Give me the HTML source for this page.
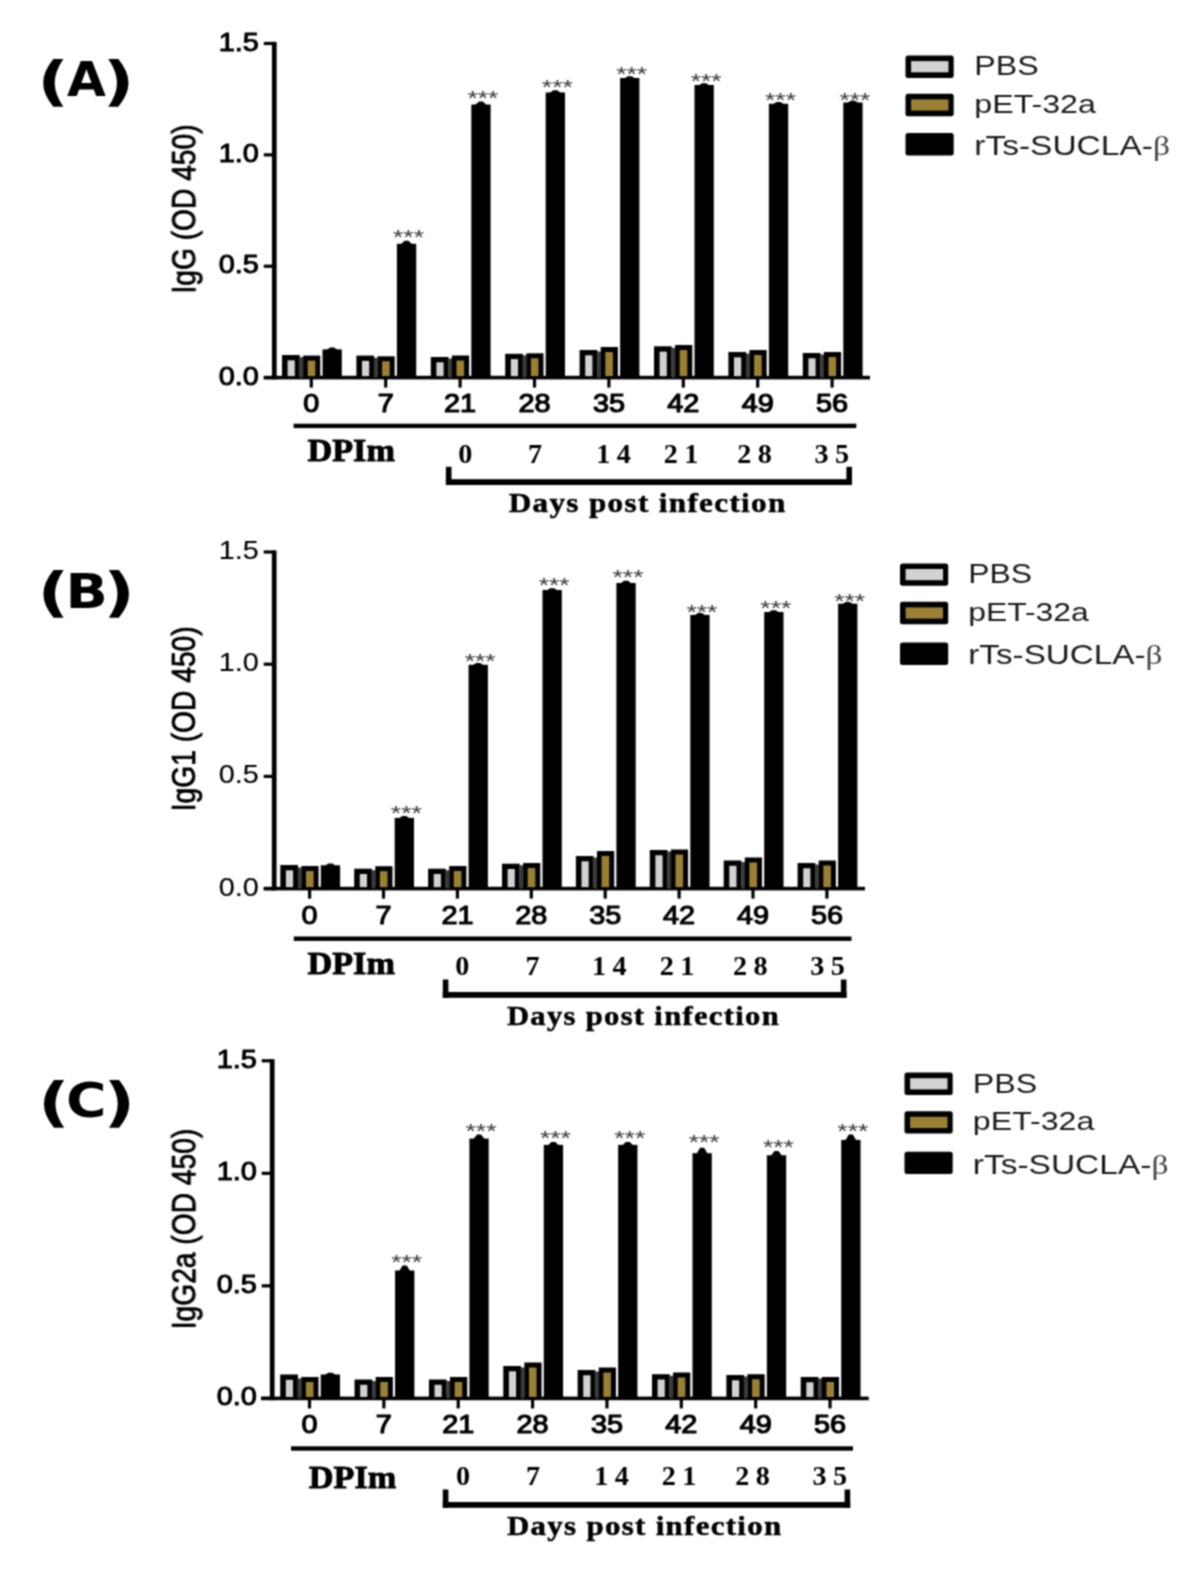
<!DOCTYPE html>
<html lang="en">
<head>
<meta charset="utf-8">
<title>Antibody responses: IgG, IgG1 and IgG2a</title>
<style>
html,body{margin:0;padding:0;background:#fff;}
body{width:1202px;height:1577px;overflow:hidden;}
svg{display:block;}
text{white-space:pre;}
</style>
</head>
<body>
<svg width="1202" height="1577" viewBox="0 0 1202 1577">
<defs><filter id="soft" x="0" y="0" width="1202" height="1577" filterUnits="userSpaceOnUse" color-interpolation-filters="sRGB"><feConvolveMatrix order="3" kernelMatrix="1 2 1 2 4 2 1 2 1" divisor="16" edgeMode="duplicate" preserveAlpha="false"/></filter></defs>
<rect x="0" y="0" width="1202" height="1577" fill="#fff"/>
<g filter="url(#soft)">
<g>
<g>
<text transform="translate(37.3 100.3) scale(1.3 1)" font-family='"DejaVu Sans", "Liberation Sans", sans-serif' font-size="53.3" font-weight="bold" text-anchor="start" fill="#000">(</text>
<text transform="translate(67.1 96.3) scale(1.04 1)" font-family='"DejaVu Sans", "Liberation Sans", sans-serif' font-size="48.3" font-weight="bold" text-anchor="start" fill="#000">A</text>
<text transform="translate(134.5 100.3) scale(1.3 1)" font-family='"DejaVu Sans", "Liberation Sans", sans-serif' font-size="53.3" font-weight="bold" text-anchor="end" fill="#000">)</text>
</g>
<text transform="translate(195.3 209) rotate(-90) scale(1 1.18)" font-family='"Liberation Sans", "DejaVu Sans", sans-serif' font-size="28.2" font-weight="normal" text-anchor="middle" fill="#000" stroke="#000" stroke-width="0.7">IgG (OD 450)</text>
<rect x="271.95" y="41.9" width="4.7" height="337.5" fill="#000"/>
<rect x="263.8" y="41.9" width="10.5" height="3.2" fill="#000"/>
<text transform="translate(258.8 50.5) scale(1.1 1)" font-family='"Liberation Sans", "DejaVu Sans", sans-serif' font-size="26.2" font-weight="normal" text-anchor="end" fill="#000" stroke="#000" stroke-width="1">1.5</text>
<rect x="263.8" y="153.27" width="10.5" height="3.2" fill="#000"/>
<text transform="translate(258.8 161.87) scale(1.1 1)" font-family='"Liberation Sans", "DejaVu Sans", sans-serif' font-size="26.2" font-weight="normal" text-anchor="end" fill="#000" stroke="#000" stroke-width="1">1.0</text>
<rect x="263.8" y="264.63" width="10.5" height="3.2" fill="#000"/>
<text transform="translate(258.8 273.23) scale(1.1 1)" font-family='"Liberation Sans", "DejaVu Sans", sans-serif' font-size="26.2" font-weight="normal" text-anchor="end" fill="#000" stroke="#000" stroke-width="1">0.5</text>
<rect x="263.8" y="376" width="10.5" height="3.2" fill="#000"/>
<text transform="translate(258.8 384.6) scale(1.1 1)" font-family='"Liberation Sans", "DejaVu Sans", sans-serif' font-size="26.2" font-weight="normal" text-anchor="end" fill="#000" stroke="#000" stroke-width="1">0.0</text>
<rect x="263.8" y="375.8" width="606.2" height="3.6" fill="#000"/>
<rect x="309.7" y="377.6" width="3.2" height="10" fill="#000"/>
<text transform="translate(311.3 411.6) scale(1.1 1)" font-family='"Liberation Sans", "DejaVu Sans", sans-serif' font-size="26.2" font-weight="normal" text-anchor="middle" fill="#000" stroke="#000" stroke-width="1.2">0</text>
<rect x="282" y="355" width="17.7" height="22.6" fill="#000"/>
<rect x="287.6" y="360.3" width="7.2" height="15.8" fill="#d2d2d2"/>
<rect x="299.5" y="357.1" width="3.8" height="20.5" fill="#3a3a3a"/>
<rect x="303.1" y="355.6" width="17.2" height="22" fill="#000"/>
<rect x="307.7" y="360.6" width="7.6" height="15.5" fill="#9a8032"/>
<rect x="322.5" y="349.4" width="19.3" height="28.2" fill="#000"/>
<path d="M326.6 349.9 L330.1 347.6 L334.1 347.6 L337.6 349.9 Z" fill="#000"/>
<rect x="384.1" y="377.6" width="3.2" height="10" fill="#000"/>
<text transform="translate(385.7 411.6) scale(1.1 1)" font-family='"Liberation Sans", "DejaVu Sans", sans-serif' font-size="26.2" font-weight="normal" text-anchor="middle" fill="#000" stroke="#000" stroke-width="1.2">7</text>
<rect x="356.4" y="355.6" width="17.7" height="22" fill="#000"/>
<rect x="362" y="360.9" width="7.2" height="15.2" fill="#d2d2d2"/>
<rect x="373.9" y="357.8" width="3.8" height="19.8" fill="#3a3a3a"/>
<rect x="377.5" y="356.3" width="17.2" height="21.3" fill="#000"/>
<rect x="382.1" y="361.3" width="7.6" height="14.8" fill="#9a8032"/>
<rect x="396.9" y="243.8" width="19.3" height="133.8" fill="#000"/>
<path d="M401 244.3 L404.5 240.8 L408.5 240.8 L412 244.3 Z" fill="#000"/>
<text transform="translate(408.5 244.1) scale(1.04 0.8)" font-family='"Liberation Sans", "DejaVu Sans", sans-serif' font-size="25.5" font-weight="normal" text-anchor="middle" fill="#333">***</text>
<rect x="458.5" y="377.6" width="3.2" height="10" fill="#000"/>
<text transform="translate(460.1 411.6) scale(1.1 1)" font-family='"Liberation Sans", "DejaVu Sans", sans-serif' font-size="26.2" font-weight="normal" text-anchor="middle" fill="#000" stroke="#000" stroke-width="1.2">21</text>
<rect x="430.8" y="357" width="17.7" height="20.6" fill="#000"/>
<rect x="436.4" y="362.3" width="7.2" height="13.8" fill="#d2d2d2"/>
<rect x="448.3" y="358.5" width="3.8" height="19.1" fill="#3a3a3a"/>
<rect x="451.9" y="355.5" width="17.2" height="22.1" fill="#000"/>
<rect x="456.5" y="360.5" width="7.6" height="15.6" fill="#9a8032"/>
<rect x="471.3" y="104.5" width="19.3" height="273.1" fill="#000"/>
<path d="M475.4 105 L478.9 101.6 L482.9 101.6 L486.4 105 Z" fill="#000"/>
<text transform="translate(482.9 104.9) scale(1.04 0.8)" font-family='"Liberation Sans", "DejaVu Sans", sans-serif' font-size="25.5" font-weight="normal" text-anchor="middle" fill="#333">***</text>
<rect x="532.9" y="377.6" width="3.2" height="10" fill="#000"/>
<text transform="translate(534.5 411.6) scale(1.1 1)" font-family='"Liberation Sans", "DejaVu Sans", sans-serif' font-size="26.2" font-weight="normal" text-anchor="middle" fill="#000" stroke="#000" stroke-width="1.2">28</text>
<rect x="505.2" y="353.8" width="17.7" height="23.8" fill="#000"/>
<rect x="510.8" y="359.1" width="7.2" height="17" fill="#d2d2d2"/>
<rect x="522.7" y="355.3" width="3.8" height="22.3" fill="#3a3a3a"/>
<rect x="526.3" y="353.3" width="17.2" height="24.3" fill="#000"/>
<rect x="530.9" y="358.3" width="7.6" height="17.8" fill="#9a8032"/>
<rect x="545.7" y="92.5" width="19.3" height="285.1" fill="#000"/>
<path d="M549.8 93 L553.3 90.3 L557.3 90.3 L560.8 93 Z" fill="#000"/>
<text transform="translate(557.3 93.6) scale(1.04 0.8)" font-family='"Liberation Sans", "DejaVu Sans", sans-serif' font-size="25.5" font-weight="normal" text-anchor="middle" fill="#333">***</text>
<rect x="607.3" y="377.6" width="3.2" height="10" fill="#000"/>
<text transform="translate(608.9 411.6) scale(1.1 1)" font-family='"Liberation Sans", "DejaVu Sans", sans-serif' font-size="26.2" font-weight="normal" text-anchor="middle" fill="#000" stroke="#000" stroke-width="1.2">35</text>
<rect x="579.6" y="350" width="17.7" height="27.6" fill="#000"/>
<rect x="585.2" y="355.3" width="7.2" height="20.8" fill="#d2d2d2"/>
<rect x="597.1" y="351.5" width="3.8" height="26.1" fill="#3a3a3a"/>
<rect x="600.7" y="347" width="17.2" height="30.6" fill="#000"/>
<rect x="605.3" y="352" width="7.6" height="24.1" fill="#9a8032"/>
<rect x="620.1" y="78" width="19.3" height="299.6" fill="#000"/>
<path d="M624.2 78.5 L627.7 76.2 L631.7 76.2 L635.2 78.5 Z" fill="#000"/>
<text transform="translate(631.7 80.6) scale(1.04 0.8)" font-family='"Liberation Sans", "DejaVu Sans", sans-serif' font-size="25.5" font-weight="normal" text-anchor="middle" fill="#333">***</text>
<rect x="681.7" y="377.6" width="3.2" height="10" fill="#000"/>
<text transform="translate(683.3 411.6) scale(1.1 1)" font-family='"Liberation Sans", "DejaVu Sans", sans-serif' font-size="26.2" font-weight="normal" text-anchor="middle" fill="#000" stroke="#000" stroke-width="1.2">42</text>
<rect x="654" y="346.3" width="17.7" height="31.3" fill="#000"/>
<rect x="659.6" y="351.6" width="7.2" height="24.5" fill="#d2d2d2"/>
<rect x="671.5" y="347.8" width="3.8" height="29.8" fill="#3a3a3a"/>
<rect x="675.1" y="345" width="17.2" height="32.6" fill="#000"/>
<rect x="679.7" y="350" width="7.6" height="26.1" fill="#9a8032"/>
<rect x="694.5" y="85" width="19.3" height="292.6" fill="#000"/>
<path d="M698.6 85.5 L702.1 83.2 L706.1 83.2 L709.6 85.5 Z" fill="#000"/>
<text transform="translate(706.1 88.1) scale(1.04 0.8)" font-family='"Liberation Sans", "DejaVu Sans", sans-serif' font-size="25.5" font-weight="normal" text-anchor="middle" fill="#333">***</text>
<rect x="756.1" y="377.6" width="3.2" height="10" fill="#000"/>
<text transform="translate(757.7 411.6) scale(1.1 1)" font-family='"Liberation Sans", "DejaVu Sans", sans-serif' font-size="26.2" font-weight="normal" text-anchor="middle" fill="#000" stroke="#000" stroke-width="1.2">49</text>
<rect x="728.4" y="352" width="17.7" height="25.6" fill="#000"/>
<rect x="734" y="357.3" width="7.2" height="18.8" fill="#d2d2d2"/>
<rect x="745.9" y="353.5" width="3.8" height="24.1" fill="#3a3a3a"/>
<rect x="749.5" y="350" width="17.2" height="27.6" fill="#000"/>
<rect x="754.1" y="355" width="7.6" height="21.1" fill="#9a8032"/>
<rect x="768.9" y="103.8" width="19.3" height="273.8" fill="#000"/>
<path d="M773 104.3 L776.5 102 L780.5 102 L784 104.3 Z" fill="#000"/>
<text transform="translate(780.5 106.6) scale(1.04 0.8)" font-family='"Liberation Sans", "DejaVu Sans", sans-serif' font-size="25.5" font-weight="normal" text-anchor="middle" fill="#333">***</text>
<rect x="830.5" y="377.6" width="3.2" height="10" fill="#000"/>
<text transform="translate(832.1 411.6) scale(1.1 1)" font-family='"Liberation Sans", "DejaVu Sans", sans-serif' font-size="26.2" font-weight="normal" text-anchor="middle" fill="#000" stroke="#000" stroke-width="1.2">56</text>
<rect x="802.8" y="353" width="17.7" height="24.6" fill="#000"/>
<rect x="808.4" y="358.3" width="7.2" height="17.8" fill="#d2d2d2"/>
<rect x="820.3" y="354.5" width="3.8" height="23.1" fill="#3a3a3a"/>
<rect x="823.9" y="352" width="17.2" height="25.6" fill="#000"/>
<rect x="828.5" y="357" width="7.6" height="19.1" fill="#9a8032"/>
<rect x="843.3" y="102.5" width="19.3" height="275.1" fill="#000"/>
<path d="M847.4 103 L850.9 100.7 L854.9 100.7 L858.4 103 Z" fill="#000"/>
<text transform="translate(854.9 106.6) scale(1.04 0.8)" font-family='"Liberation Sans", "DejaVu Sans", sans-serif' font-size="25.5" font-weight="normal" text-anchor="middle" fill="#333">***</text>
<rect x="293.6" y="423.7" width="562.7" height="4.4" fill="#000"/>
<text transform="translate(307.5 460.6) scale(1.05 1)" font-family='"Liberation Serif", "DejaVu Serif", serif' font-size="32.6" font-weight="bold" text-anchor="start" fill="#000" stroke="#000" stroke-width="0.9">DPIm</text>
<text transform="translate(465.3 462.9) scale(1.06 1)" font-family='"Liberation Serif", "DejaVu Serif", serif' font-size="26.6" font-weight="bold" text-anchor="middle" fill="#000">0</text>
<text transform="translate(535 462.9) scale(1.06 1)" font-family='"Liberation Serif", "DejaVu Serif", serif' font-size="26.6" font-weight="bold" text-anchor="middle" fill="#000">7</text>
<text transform="translate(616.7 462.9) scale(1.06 1)" font-family='"Liberation Serif", "DejaVu Serif", serif' font-size="26.6" font-weight="bold" text-anchor="middle" fill="#000" letter-spacing="6">14</text>
<text transform="translate(684.2 462.9) scale(1.06 1)" font-family='"Liberation Serif", "DejaVu Serif", serif' font-size="26.6" font-weight="bold" text-anchor="middle" fill="#000" letter-spacing="6">21</text>
<text transform="translate(757.7 462.9) scale(1.06 1)" font-family='"Liberation Serif", "DejaVu Serif", serif' font-size="26.6" font-weight="bold" text-anchor="middle" fill="#000" letter-spacing="6">28</text>
<text transform="translate(834.9 462.9) scale(1.06 1)" font-family='"Liberation Serif", "DejaVu Serif", serif' font-size="26.6" font-weight="bold" text-anchor="middle" fill="#000" letter-spacing="6">35</text>
<rect x="445.9" y="466.8" width="5.6" height="18.2" fill="#000"/>
<rect x="846.4" y="466.8" width="5.6" height="18.2" fill="#000"/>
<rect x="445.9" y="479.2" width="406.1" height="5.8" fill="#000"/>
<text transform="translate(508.7 512.4) scale(1.12 1)" font-family='"Liberation Serif", "DejaVu Serif", serif' font-size="27.8" font-weight="bold" text-anchor="start" fill="#000" letter-spacing="1.2" stroke="#000" stroke-width="0.5">Days post infection</text>
<rect x="905.5" y="55.5" width="48.2" height="22.4" rx="2.5" fill="#000"/>
<rect x="911.1" y="61.1" width="37.4" height="11.2" fill="#d2d2d2"/>
<text transform="translate(974.3 74.9) scale(1.2 1)" font-family='"Liberation Sans", "DejaVu Sans", sans-serif' font-size="26.8" font-weight="normal" text-anchor="start" fill="#1a1a1a">PBS</text>
<rect x="905.5" y="93.75" width="48.2" height="22.4" rx="2.5" fill="#000"/>
<rect x="911.1" y="99.35" width="37.4" height="11.2" fill="#9a8032"/>
<text transform="translate(974.3 112.6) scale(1.2 0.95)" font-family='"Liberation Sans", "DejaVu Sans", sans-serif' font-size="26.8" font-weight="normal" text-anchor="start" fill="#1a1a1a">pET-32a</text>
<rect x="905.5" y="133" width="48.2" height="22.4" rx="2.5" fill="#000"/>
<text transform="translate(974.3 155.2) scale(1.25 1.04)" font-family='"Liberation Sans", "DejaVu Sans", sans-serif' font-size="26.8" font-weight="normal" text-anchor="start" fill="#1a1a1a">rTs-SUCLA-<tspan font-family='"Liberation Serif", "DejaVu Serif", serif' fill="#444">β</tspan></text>
</g>
<g>
<g>
<text transform="translate(37.6 610.5) scale(1.3 1)" font-family='"DejaVu Sans", "Liberation Sans", sans-serif' font-size="53.3" font-weight="bold" text-anchor="start" fill="#000">(</text>
<text transform="translate(65.4 608) scale(1.15 1)" font-family='"DejaVu Sans", "Liberation Sans", sans-serif' font-size="48.3" font-weight="bold" text-anchor="start" fill="#000">B</text>
<text transform="translate(134.8 610.5) scale(1.3 1)" font-family='"DejaVu Sans", "Liberation Sans", sans-serif' font-size="53.3" font-weight="bold" text-anchor="end" fill="#000">)</text>
</g>
<text transform="translate(195.3 718.8) rotate(-90) scale(1 1.18)" font-family='"Liberation Sans", "DejaVu Sans", sans-serif' font-size="28.2" font-weight="normal" text-anchor="middle" fill="#000" stroke="#000" stroke-width="0.7">IgG1 (OD 450)</text>
<rect x="271.85" y="550.4" width="4.7" height="340" fill="#000"/>
<rect x="263.7" y="550.4" width="10.5" height="3.2" fill="#000"/>
<text transform="translate(258.7 559) scale(1.1 1)" font-family='"Liberation Sans", "DejaVu Sans", sans-serif' font-size="26.2" font-weight="normal" text-anchor="end" fill="#000" stroke="#000" stroke-width="0.15">1.5</text>
<rect x="263.7" y="662.6" width="10.5" height="3.2" fill="#000"/>
<text transform="translate(258.7 671.2) scale(1.1 1)" font-family='"Liberation Sans", "DejaVu Sans", sans-serif' font-size="26.2" font-weight="normal" text-anchor="end" fill="#000" stroke="#000" stroke-width="0.15">1.0</text>
<rect x="263.7" y="774.8" width="10.5" height="3.2" fill="#000"/>
<text transform="translate(258.7 783.4) scale(1.1 1)" font-family='"Liberation Sans", "DejaVu Sans", sans-serif' font-size="26.2" font-weight="normal" text-anchor="end" fill="#000" stroke="#000" stroke-width="0.15">0.5</text>
<rect x="263.7" y="887" width="10.5" height="3.2" fill="#000"/>
<text transform="translate(258.7 895.6) scale(1.1 1)" font-family='"Liberation Sans", "DejaVu Sans", sans-serif' font-size="26.2" font-weight="normal" text-anchor="end" fill="#000" stroke="#000" stroke-width="0.15">0.0</text>
<rect x="263.8" y="886.8" width="601.2" height="3.6" fill="#000"/>
<rect x="308" y="888.6" width="3.2" height="10" fill="#000"/>
<text transform="translate(309.6 923.7) scale(1.1 1)" font-family='"Liberation Sans", "DejaVu Sans", sans-serif' font-size="26.2" font-weight="normal" text-anchor="middle" fill="#000" stroke="#000" stroke-width="1.1">0</text>
<rect x="280.3" y="865" width="17.7" height="23.6" fill="#000"/>
<rect x="285.9" y="870.3" width="7.2" height="16.8" fill="#d2d2d2"/>
<rect x="297.8" y="867.5" width="3.8" height="21.1" fill="#3a3a3a"/>
<rect x="301.4" y="866" width="17.2" height="22.6" fill="#000"/>
<rect x="306" y="871" width="7.6" height="16.1" fill="#9a8032"/>
<rect x="320.8" y="865.3" width="19.3" height="23.3" fill="#000"/>
<path d="M324.9 865.8 L328.4 863.5 L332.4 863.5 L335.9 865.8 Z" fill="#000"/>
<rect x="381.9" y="888.6" width="3.2" height="10" fill="#000"/>
<text transform="translate(383.5 923.7) scale(1.1 1)" font-family='"Liberation Sans", "DejaVu Sans", sans-serif' font-size="26.2" font-weight="normal" text-anchor="middle" fill="#000" stroke="#000" stroke-width="1.1">7</text>
<rect x="354.2" y="868.7" width="17.7" height="19.9" fill="#000"/>
<rect x="359.8" y="874" width="7.2" height="13.1" fill="#d2d2d2"/>
<rect x="371.7" y="870.2" width="3.8" height="18.4" fill="#3a3a3a"/>
<rect x="375.3" y="866.2" width="17.2" height="22.4" fill="#000"/>
<rect x="379.9" y="871.2" width="7.6" height="15.9" fill="#9a8032"/>
<rect x="394.7" y="817.9" width="19.3" height="70.7" fill="#000"/>
<path d="M398.8 818.4 L402.3 816.1 L406.3 816.1 L409.8 818.4 Z" fill="#000"/>
<text transform="translate(406.3 819.8) scale(1.04 0.8)" font-family='"Liberation Sans", "DejaVu Sans", sans-serif' font-size="25.5" font-weight="normal" text-anchor="middle" fill="#333">***</text>
<rect x="455.8" y="888.6" width="3.2" height="10" fill="#000"/>
<text transform="translate(457.4 923.7) scale(1.1 1)" font-family='"Liberation Sans", "DejaVu Sans", sans-serif' font-size="26.2" font-weight="normal" text-anchor="middle" fill="#000" stroke="#000" stroke-width="1.1">21</text>
<rect x="428.1" y="868.7" width="17.7" height="19.9" fill="#000"/>
<rect x="433.7" y="874" width="7.2" height="13.1" fill="#d2d2d2"/>
<rect x="445.6" y="870.2" width="3.8" height="18.4" fill="#3a3a3a"/>
<rect x="449.2" y="866" width="17.2" height="22.6" fill="#000"/>
<rect x="453.8" y="871" width="7.6" height="16.1" fill="#9a8032"/>
<rect x="468.6" y="664.8" width="19.3" height="223.8" fill="#000"/>
<path d="M472.7 665.3 L476.2 663 L480.2 663 L483.7 665.3 Z" fill="#000"/>
<text transform="translate(480.2 668.4) scale(1.04 0.8)" font-family='"Liberation Sans", "DejaVu Sans", sans-serif' font-size="25.5" font-weight="normal" text-anchor="middle" fill="#333">***</text>
<rect x="529.7" y="888.6" width="3.2" height="10" fill="#000"/>
<text transform="translate(531.3 923.7) scale(1.1 1)" font-family='"Liberation Sans", "DejaVu Sans", sans-serif' font-size="26.2" font-weight="normal" text-anchor="middle" fill="#000" stroke="#000" stroke-width="1.1">28</text>
<rect x="502" y="863.7" width="17.7" height="24.9" fill="#000"/>
<rect x="507.6" y="869" width="7.2" height="18.1" fill="#d2d2d2"/>
<rect x="519.5" y="865.2" width="3.8" height="23.4" fill="#3a3a3a"/>
<rect x="523.1" y="863" width="17.2" height="25.6" fill="#000"/>
<rect x="527.7" y="868" width="7.6" height="19.1" fill="#9a8032"/>
<rect x="542.5" y="590" width="19.3" height="298.6" fill="#000"/>
<path d="M546.6 590.5 L550.1 588.2 L554.1 588.2 L557.6 590.5 Z" fill="#000"/>
<text transform="translate(554.1 592.3) scale(1.04 0.8)" font-family='"Liberation Sans", "DejaVu Sans", sans-serif' font-size="25.5" font-weight="normal" text-anchor="middle" fill="#333">***</text>
<rect x="603.6" y="888.6" width="3.2" height="10" fill="#000"/>
<text transform="translate(605.2 923.7) scale(1.1 1)" font-family='"Liberation Sans", "DejaVu Sans", sans-serif' font-size="26.2" font-weight="normal" text-anchor="middle" fill="#000" stroke="#000" stroke-width="1.1">35</text>
<rect x="575.9" y="856" width="17.7" height="32.6" fill="#000"/>
<rect x="581.5" y="861.3" width="7.2" height="25.8" fill="#d2d2d2"/>
<rect x="593.4" y="857.5" width="3.8" height="31.1" fill="#3a3a3a"/>
<rect x="597" y="851" width="17.2" height="37.6" fill="#000"/>
<rect x="601.6" y="856" width="7.6" height="31.1" fill="#9a8032"/>
<rect x="616.4" y="583" width="19.3" height="305.6" fill="#000"/>
<path d="M620.5 583.5 L624 580.7 L628 580.7 L631.5 583.5 Z" fill="#000"/>
<text transform="translate(628 584) scale(1.04 0.8)" font-family='"Liberation Sans", "DejaVu Sans", sans-serif' font-size="25.5" font-weight="normal" text-anchor="middle" fill="#333">***</text>
<rect x="677.5" y="888.6" width="3.2" height="10" fill="#000"/>
<text transform="translate(679.1 923.7) scale(1.1 1)" font-family='"Liberation Sans", "DejaVu Sans", sans-serif' font-size="26.2" font-weight="normal" text-anchor="middle" fill="#000" stroke="#000" stroke-width="1.1">42</text>
<rect x="649.8" y="850" width="17.7" height="38.6" fill="#000"/>
<rect x="655.4" y="855.3" width="7.2" height="31.8" fill="#d2d2d2"/>
<rect x="667.3" y="851.5" width="3.8" height="37.1" fill="#3a3a3a"/>
<rect x="670.9" y="849.5" width="17.2" height="39.1" fill="#000"/>
<rect x="675.5" y="854.5" width="7.6" height="32.6" fill="#9a8032"/>
<rect x="690.3" y="614.9" width="19.3" height="273.7" fill="#000"/>
<path d="M694.4 615.4 L697.9 613.1 L701.9 613.1 L705.4 615.4 Z" fill="#000"/>
<text transform="translate(701.9 618.5) scale(1.04 0.8)" font-family='"Liberation Sans", "DejaVu Sans", sans-serif' font-size="25.5" font-weight="normal" text-anchor="middle" fill="#333">***</text>
<rect x="751.4" y="888.6" width="3.2" height="10" fill="#000"/>
<text transform="translate(753 923.7) scale(1.1 1)" font-family='"Liberation Sans", "DejaVu Sans", sans-serif' font-size="26.2" font-weight="normal" text-anchor="middle" fill="#000" stroke="#000" stroke-width="1.1">49</text>
<rect x="723.7" y="860.5" width="17.7" height="28.1" fill="#000"/>
<rect x="729.3" y="865.8" width="7.2" height="21.3" fill="#d2d2d2"/>
<rect x="741.2" y="862" width="3.8" height="26.6" fill="#3a3a3a"/>
<rect x="744.8" y="857.5" width="17.2" height="31.1" fill="#000"/>
<rect x="749.4" y="862.5" width="7.6" height="24.6" fill="#9a8032"/>
<rect x="764.2" y="612" width="19.3" height="276.6" fill="#000"/>
<path d="M768.3 612.5 L771.8 610.2 L775.8 610.2 L779.3 612.5 Z" fill="#000"/>
<text transform="translate(775.8 615.2) scale(1.04 0.8)" font-family='"Liberation Sans", "DejaVu Sans", sans-serif' font-size="25.5" font-weight="normal" text-anchor="middle" fill="#333">***</text>
<rect x="825.3" y="888.6" width="3.2" height="10" fill="#000"/>
<text transform="translate(826.9 923.7) scale(1.1 1)" font-family='"Liberation Sans", "DejaVu Sans", sans-serif' font-size="26.2" font-weight="normal" text-anchor="middle" fill="#000" stroke="#000" stroke-width="1.1">56</text>
<rect x="797.6" y="863" width="17.7" height="25.6" fill="#000"/>
<rect x="803.2" y="868.3" width="7.2" height="18.8" fill="#d2d2d2"/>
<rect x="815.1" y="864.5" width="3.8" height="24.1" fill="#3a3a3a"/>
<rect x="818.7" y="860.5" width="17.2" height="28.1" fill="#000"/>
<rect x="823.3" y="865.5" width="7.6" height="21.6" fill="#9a8032"/>
<rect x="838.1" y="603.7" width="19.3" height="284.9" fill="#000"/>
<path d="M842.2 604.2 L845.7 601.9 L849.7 601.9 L853.2 604.2 Z" fill="#000"/>
<text transform="translate(849.7 607.7) scale(1.04 0.8)" font-family='"Liberation Sans", "DejaVu Sans", sans-serif' font-size="25.5" font-weight="normal" text-anchor="middle" fill="#333">***</text>
<rect x="293.8" y="936.5" width="557.7" height="4.4" fill="#000"/>
<text transform="translate(307.5 973.8) scale(1.05 1)" font-family='"Liberation Serif", "DejaVu Serif", serif' font-size="32.6" font-weight="bold" text-anchor="start" fill="#000" stroke="#000" stroke-width="0.9">DPIm</text>
<text transform="translate(462.2 975) scale(1.06 1)" font-family='"Liberation Serif", "DejaVu Serif", serif' font-size="26.6" font-weight="bold" text-anchor="middle" fill="#000">0</text>
<text transform="translate(532.5 975) scale(1.06 1)" font-family='"Liberation Serif", "DejaVu Serif", serif' font-size="26.6" font-weight="bold" text-anchor="middle" fill="#000">7</text>
<text transform="translate(612.5 975) scale(1.06 1)" font-family='"Liberation Serif", "DejaVu Serif", serif' font-size="26.6" font-weight="bold" text-anchor="middle" fill="#000" letter-spacing="6">14</text>
<text transform="translate(680.2 975) scale(1.06 1)" font-family='"Liberation Serif", "DejaVu Serif", serif' font-size="26.6" font-weight="bold" text-anchor="middle" fill="#000" letter-spacing="6">21</text>
<text transform="translate(753.5 975) scale(1.06 1)" font-family='"Liberation Serif", "DejaVu Serif", serif' font-size="26.6" font-weight="bold" text-anchor="middle" fill="#000" letter-spacing="6">28</text>
<text transform="translate(830.7 975) scale(1.06 1)" font-family='"Liberation Serif", "DejaVu Serif", serif' font-size="26.6" font-weight="bold" text-anchor="middle" fill="#000" letter-spacing="6">35</text>
<rect x="442.8" y="979.5" width="5.6" height="18.3" fill="#000"/>
<rect x="840.9" y="979.5" width="5.6" height="18.3" fill="#000"/>
<rect x="442.8" y="992" width="403.7" height="5.8" fill="#000"/>
<text transform="translate(506.9 1025) scale(1.1 1)" font-family='"Liberation Serif", "DejaVu Serif", serif' font-size="27.8" font-weight="bold" text-anchor="start" fill="#000" letter-spacing="1.2" stroke="#000" stroke-width="0.5">Days post infection</text>
<rect x="900" y="563.4" width="48.2" height="22.4" rx="2.5" fill="#000"/>
<rect x="905.6" y="569" width="37.4" height="11.2" fill="#d2d2d2"/>
<text transform="translate(968.3 582.6) scale(1.19 1)" font-family='"Liberation Sans", "DejaVu Sans", sans-serif' font-size="26.8" font-weight="normal" text-anchor="start" fill="#1a1a1a">PBS</text>
<rect x="900" y="601.8" width="48.2" height="22.4" rx="2.5" fill="#000"/>
<rect x="905.6" y="607.4" width="37.4" height="11.2" fill="#9a8032"/>
<text transform="translate(968.3 621.2) scale(1.19 0.95)" font-family='"Liberation Sans", "DejaVu Sans", sans-serif' font-size="26.8" font-weight="normal" text-anchor="start" fill="#1a1a1a">pET-32a</text>
<rect x="900" y="642.5" width="48.2" height="22.4" rx="2.5" fill="#000"/>
<text transform="translate(968.3 663.8) scale(1.24 1.04)" font-family='"Liberation Sans", "DejaVu Sans", sans-serif' font-size="26.8" font-weight="normal" text-anchor="start" fill="#1a1a1a">rTs-SUCLA-<tspan font-family='"Liberation Serif", "DejaVu Serif", serif' fill="#444">β</tspan></text>
</g>
<g>
<g>
<text transform="translate(37.9 1120.8) scale(1.3 1)" font-family='"DejaVu Sans", "Liberation Sans", sans-serif' font-size="53.3" font-weight="bold" text-anchor="start" fill="#000">(</text>
<text transform="translate(66.1 1116.8) scale(1.14 1)" font-family='"DejaVu Sans", "Liberation Sans", sans-serif' font-size="48.3" font-weight="bold" text-anchor="start" fill="#000">C</text>
<text transform="translate(135.1 1120.8) scale(1.3 1)" font-family='"DejaVu Sans", "Liberation Sans", sans-serif' font-size="53.3" font-weight="bold" text-anchor="end" fill="#000">)</text>
</g>
<text transform="translate(195.3 1229) rotate(-90) scale(1 1.18)" font-family='"Liberation Sans", "DejaVu Sans", sans-serif' font-size="28.2" font-weight="normal" text-anchor="middle" fill="#000" stroke="#000" stroke-width="0.7">IgG2a (OD 450)</text>
<rect x="269.85" y="1059.2" width="4.7" height="341" fill="#000"/>
<rect x="261.7" y="1059.2" width="10.5" height="3.2" fill="#000"/>
<text transform="translate(256.7 1067.8) scale(1.1 1)" font-family='"Liberation Sans", "DejaVu Sans", sans-serif' font-size="26.2" font-weight="normal" text-anchor="end" fill="#000" stroke="#000" stroke-width="1">1.5</text>
<rect x="261.7" y="1171.73" width="10.5" height="3.2" fill="#000"/>
<text transform="translate(256.7 1180.33) scale(1.1 1)" font-family='"Liberation Sans", "DejaVu Sans", sans-serif' font-size="26.2" font-weight="normal" text-anchor="end" fill="#000" stroke="#000" stroke-width="1">1.0</text>
<rect x="261.7" y="1284.27" width="10.5" height="3.2" fill="#000"/>
<text transform="translate(256.7 1292.87) scale(1.1 1)" font-family='"Liberation Sans", "DejaVu Sans", sans-serif' font-size="26.2" font-weight="normal" text-anchor="end" fill="#000" stroke="#000" stroke-width="1">0.5</text>
<rect x="261.7" y="1396.8" width="10.5" height="3.2" fill="#000"/>
<text transform="translate(256.7 1405.4) scale(1.1 1)" font-family='"Liberation Sans", "DejaVu Sans", sans-serif' font-size="26.2" font-weight="normal" text-anchor="end" fill="#000" stroke="#000" stroke-width="1">0.0</text>
<rect x="261" y="1396.6" width="607.7" height="3.6" fill="#000"/>
<rect x="307.9" y="1398.4" width="3.2" height="10" fill="#000"/>
<text transform="translate(309.5 1433.4) scale(1.1 1)" font-family='"Liberation Sans", "DejaVu Sans", sans-serif' font-size="26.2" font-weight="normal" text-anchor="middle" fill="#000" stroke="#000" stroke-width="1.2">0</text>
<rect x="280.2" y="1374.5" width="17.7" height="23.9" fill="#000"/>
<rect x="285.8" y="1379.8" width="7.2" height="17.1" fill="#d2d2d2"/>
<rect x="297.7" y="1378.5" width="3.8" height="19.9" fill="#3a3a3a"/>
<rect x="301.3" y="1377" width="17.2" height="21.4" fill="#000"/>
<rect x="305.9" y="1382" width="7.6" height="14.9" fill="#9a8032"/>
<rect x="320.7" y="1374.5" width="19.3" height="23.9" fill="#000"/>
<path d="M324.8 1375 L328.3 1372.7 L332.3 1372.7 L335.8 1375 Z" fill="#000"/>
<rect x="382.26" y="1398.4" width="3.2" height="10" fill="#000"/>
<text transform="translate(383.86 1433.4) scale(1.1 1)" font-family='"Liberation Sans", "DejaVu Sans", sans-serif' font-size="26.2" font-weight="normal" text-anchor="middle" fill="#000" stroke="#000" stroke-width="1.2">7</text>
<rect x="354.56" y="1379.5" width="17.7" height="18.9" fill="#000"/>
<rect x="360.16" y="1384.8" width="7.2" height="12.1" fill="#d2d2d2"/>
<rect x="372.06" y="1381" width="3.8" height="17.4" fill="#3a3a3a"/>
<rect x="375.66" y="1377" width="17.2" height="21.4" fill="#000"/>
<rect x="380.26" y="1382" width="7.6" height="14.9" fill="#9a8032"/>
<rect x="395.06" y="1270.5" width="19.3" height="127.9" fill="#000"/>
<path d="M399.16 1271 L402.66 1265.4 L406.66 1265.4 L410.16 1271 Z" fill="#000"/>
<text transform="translate(406.66 1268.7) scale(1.04 0.8)" font-family='"Liberation Sans", "DejaVu Sans", sans-serif' font-size="25.5" font-weight="normal" text-anchor="middle" fill="#333">***</text>
<rect x="456.62" y="1398.4" width="3.2" height="10" fill="#000"/>
<text transform="translate(458.22 1433.4) scale(1.1 1)" font-family='"Liberation Sans", "DejaVu Sans", sans-serif' font-size="26.2" font-weight="normal" text-anchor="middle" fill="#000" stroke="#000" stroke-width="1.2">21</text>
<rect x="428.92" y="1379.5" width="17.7" height="18.9" fill="#000"/>
<rect x="434.52" y="1384.8" width="7.2" height="12.1" fill="#d2d2d2"/>
<rect x="446.42" y="1381" width="3.8" height="17.4" fill="#3a3a3a"/>
<rect x="450.02" y="1377" width="17.2" height="21.4" fill="#000"/>
<rect x="454.62" y="1382" width="7.6" height="14.9" fill="#9a8032"/>
<rect x="469.42" y="1138.6" width="19.3" height="259.8" fill="#000"/>
<path d="M473.52 1139.1 L477.02 1134.4 L481.02 1134.4 L484.52 1139.1 Z" fill="#000"/>
<text transform="translate(481.02 1137.7) scale(1.04 0.8)" font-family='"Liberation Sans", "DejaVu Sans", sans-serif' font-size="25.5" font-weight="normal" text-anchor="middle" fill="#333">***</text>
<rect x="530.98" y="1398.4" width="3.2" height="10" fill="#000"/>
<text transform="translate(532.58 1433.4) scale(1.1 1)" font-family='"Liberation Sans", "DejaVu Sans", sans-serif' font-size="26.2" font-weight="normal" text-anchor="middle" fill="#000" stroke="#000" stroke-width="1.2">28</text>
<rect x="503.28" y="1366" width="17.7" height="32.4" fill="#000"/>
<rect x="508.88" y="1371.3" width="7.2" height="25.6" fill="#d2d2d2"/>
<rect x="520.78" y="1367.5" width="3.8" height="30.9" fill="#3a3a3a"/>
<rect x="524.38" y="1362.5" width="17.2" height="35.9" fill="#000"/>
<rect x="528.98" y="1367.5" width="7.6" height="29.4" fill="#9a8032"/>
<rect x="543.78" y="1144.9" width="19.3" height="253.5" fill="#000"/>
<path d="M547.88 1145.4 L551.38 1141.9 L555.38 1141.9 L558.88 1145.4 Z" fill="#000"/>
<text transform="translate(555.38 1145.2) scale(1.04 0.8)" font-family='"Liberation Sans", "DejaVu Sans", sans-serif' font-size="25.5" font-weight="normal" text-anchor="middle" fill="#333">***</text>
<rect x="605.34" y="1398.4" width="3.2" height="10" fill="#000"/>
<text transform="translate(606.94 1433.4) scale(1.1 1)" font-family='"Liberation Sans", "DejaVu Sans", sans-serif' font-size="26.2" font-weight="normal" text-anchor="middle" fill="#000" stroke="#000" stroke-width="1.2">35</text>
<rect x="577.64" y="1370" width="17.7" height="28.4" fill="#000"/>
<rect x="583.24" y="1375.3" width="7.2" height="21.6" fill="#d2d2d2"/>
<rect x="595.14" y="1371.5" width="3.8" height="26.9" fill="#3a3a3a"/>
<rect x="598.74" y="1367.5" width="17.2" height="30.9" fill="#000"/>
<rect x="603.34" y="1372.5" width="7.6" height="24.4" fill="#9a8032"/>
<rect x="618.14" y="1144.9" width="19.3" height="253.5" fill="#000"/>
<path d="M622.24 1145.4 L625.74 1141.9 L629.74 1141.9 L633.24 1145.4 Z" fill="#000"/>
<text transform="translate(629.74 1145.2) scale(1.04 0.8)" font-family='"Liberation Sans", "DejaVu Sans", sans-serif' font-size="25.5" font-weight="normal" text-anchor="middle" fill="#333">***</text>
<rect x="679.7" y="1398.4" width="3.2" height="10" fill="#000"/>
<text transform="translate(681.3 1433.4) scale(1.1 1)" font-family='"Liberation Sans", "DejaVu Sans", sans-serif' font-size="26.2" font-weight="normal" text-anchor="middle" fill="#000" stroke="#000" stroke-width="1.2">42</text>
<rect x="652" y="1374.2" width="17.7" height="24.2" fill="#000"/>
<rect x="657.6" y="1379.5" width="7.2" height="17.4" fill="#d2d2d2"/>
<rect x="669.5" y="1375.7" width="3.8" height="22.7" fill="#3a3a3a"/>
<rect x="673.1" y="1372.5" width="17.2" height="25.9" fill="#000"/>
<rect x="677.7" y="1377.5" width="7.6" height="19.4" fill="#9a8032"/>
<rect x="692.5" y="1153.2" width="19.3" height="245.2" fill="#000"/>
<path d="M696.6 1153.7 L700.1 1147.7 L704.1 1147.7 L707.6 1153.7 Z" fill="#000"/>
<text transform="translate(704.1 1149.3) scale(1.04 0.8)" font-family='"Liberation Sans", "DejaVu Sans", sans-serif' font-size="25.5" font-weight="normal" text-anchor="middle" fill="#333">***</text>
<rect x="754.06" y="1398.4" width="3.2" height="10" fill="#000"/>
<text transform="translate(755.66 1433.4) scale(1.1 1)" font-family='"Liberation Sans", "DejaVu Sans", sans-serif' font-size="26.2" font-weight="normal" text-anchor="middle" fill="#000" stroke="#000" stroke-width="1.2">49</text>
<rect x="726.36" y="1375" width="17.7" height="23.4" fill="#000"/>
<rect x="731.96" y="1380.3" width="7.2" height="16.6" fill="#d2d2d2"/>
<rect x="743.86" y="1376.5" width="3.8" height="21.9" fill="#3a3a3a"/>
<rect x="747.46" y="1374.2" width="17.2" height="24.2" fill="#000"/>
<rect x="752.06" y="1379.2" width="7.6" height="17.7" fill="#9a8032"/>
<rect x="766.86" y="1155.3" width="19.3" height="243.1" fill="#000"/>
<path d="M770.96 1155.8 L774.46 1151 L778.46 1151 L781.96 1155.8 Z" fill="#000"/>
<text transform="translate(778.46 1154.3) scale(1.04 0.8)" font-family='"Liberation Sans", "DejaVu Sans", sans-serif' font-size="25.5" font-weight="normal" text-anchor="middle" fill="#333">***</text>
<rect x="828.42" y="1398.4" width="3.2" height="10" fill="#000"/>
<text transform="translate(830.02 1433.4) scale(1.1 1)" font-family='"Liberation Sans", "DejaVu Sans", sans-serif' font-size="26.2" font-weight="normal" text-anchor="middle" fill="#000" stroke="#000" stroke-width="1.2">56</text>
<rect x="800.72" y="1377" width="17.7" height="21.4" fill="#000"/>
<rect x="806.32" y="1382.3" width="7.2" height="14.6" fill="#d2d2d2"/>
<rect x="818.22" y="1378.5" width="3.8" height="19.9" fill="#3a3a3a"/>
<rect x="821.82" y="1377" width="17.2" height="21.4" fill="#000"/>
<rect x="826.42" y="1382" width="7.6" height="14.9" fill="#9a8032"/>
<rect x="841.22" y="1139.9" width="19.3" height="258.5" fill="#000"/>
<path d="M845.32 1140.4 L848.82 1134.4 L852.82 1134.4 L856.32 1140.4 Z" fill="#000"/>
<text transform="translate(852.82 1137.7) scale(1.04 0.8)" font-family='"Liberation Sans", "DejaVu Sans", sans-serif' font-size="25.5" font-weight="normal" text-anchor="middle" fill="#333">***</text>
<rect x="291" y="1446.3" width="562" height="4.4" fill="#000"/>
<text transform="translate(308.8 1487.5) scale(1.05 1)" font-family='"Liberation Serif", "DejaVu Serif", serif' font-size="32.6" font-weight="bold" text-anchor="start" fill="#000" stroke="#000" stroke-width="0.9">DPIm</text>
<text transform="translate(463 1485.4) scale(1.06 1)" font-family='"Liberation Serif", "DejaVu Serif", serif' font-size="26.6" font-weight="bold" text-anchor="middle" fill="#000">0</text>
<text transform="translate(533 1485.4) scale(1.06 1)" font-family='"Liberation Serif", "DejaVu Serif", serif' font-size="26.6" font-weight="bold" text-anchor="middle" fill="#000">7</text>
<text transform="translate(614.7 1485.4) scale(1.06 1)" font-family='"Liberation Serif", "DejaVu Serif", serif' font-size="26.6" font-weight="bold" text-anchor="middle" fill="#000" letter-spacing="6">14</text>
<text transform="translate(682.2 1485.4) scale(1.06 1)" font-family='"Liberation Serif", "DejaVu Serif", serif' font-size="26.6" font-weight="bold" text-anchor="middle" fill="#000" letter-spacing="6">21</text>
<text transform="translate(755.7 1485.4) scale(1.06 1)" font-family='"Liberation Serif", "DejaVu Serif", serif' font-size="26.6" font-weight="bold" text-anchor="middle" fill="#000" letter-spacing="6">28</text>
<text transform="translate(832.9 1485.4) scale(1.06 1)" font-family='"Liberation Serif", "DejaVu Serif", serif' font-size="26.6" font-weight="bold" text-anchor="middle" fill="#000" letter-spacing="6">35</text>
<rect x="442.8" y="1489.5" width="5.6" height="18.3" fill="#000"/>
<rect x="844.6" y="1489.5" width="5.6" height="18.3" fill="#000"/>
<rect x="442.8" y="1502" width="407.4" height="5.8" fill="#000"/>
<text transform="translate(506.9 1535) scale(1.11 1)" font-family='"Liberation Serif", "DejaVu Serif", serif' font-size="27.8" font-weight="bold" text-anchor="start" fill="#000" letter-spacing="1.2" stroke="#000" stroke-width="0.5">Days post infection</text>
<rect x="904.5" y="1072.6" width="48.2" height="22.4" rx="2.5" fill="#000"/>
<rect x="910.1" y="1078.2" width="37.4" height="11.2" fill="#d2d2d2"/>
<text transform="translate(972.8 1092.6) scale(1.2 1)" font-family='"Liberation Sans", "DejaVu Sans", sans-serif' font-size="26.8" font-weight="normal" text-anchor="start" fill="#1a1a1a">PBS</text>
<rect x="904.5" y="1111.2" width="48.2" height="22.4" rx="2.5" fill="#000"/>
<rect x="910.1" y="1116.8" width="37.4" height="11.2" fill="#9a8032"/>
<text transform="translate(972.8 1129.9) scale(1.2 0.95)" font-family='"Liberation Sans", "DejaVu Sans", sans-serif' font-size="26.8" font-weight="normal" text-anchor="start" fill="#1a1a1a">pET-32a</text>
<rect x="904.5" y="1151.7" width="48.2" height="22.4" rx="2.5" fill="#000"/>
<text transform="translate(972.8 1173.8) scale(1.25 1.04)" font-family='"Liberation Sans", "DejaVu Sans", sans-serif' font-size="26.8" font-weight="normal" text-anchor="start" fill="#1a1a1a">rTs-SUCLA-<tspan font-family='"Liberation Serif", "DejaVu Serif", serif' fill="#444">β</tspan></text>
</g>
</g>
</svg>
</body>
</html>
